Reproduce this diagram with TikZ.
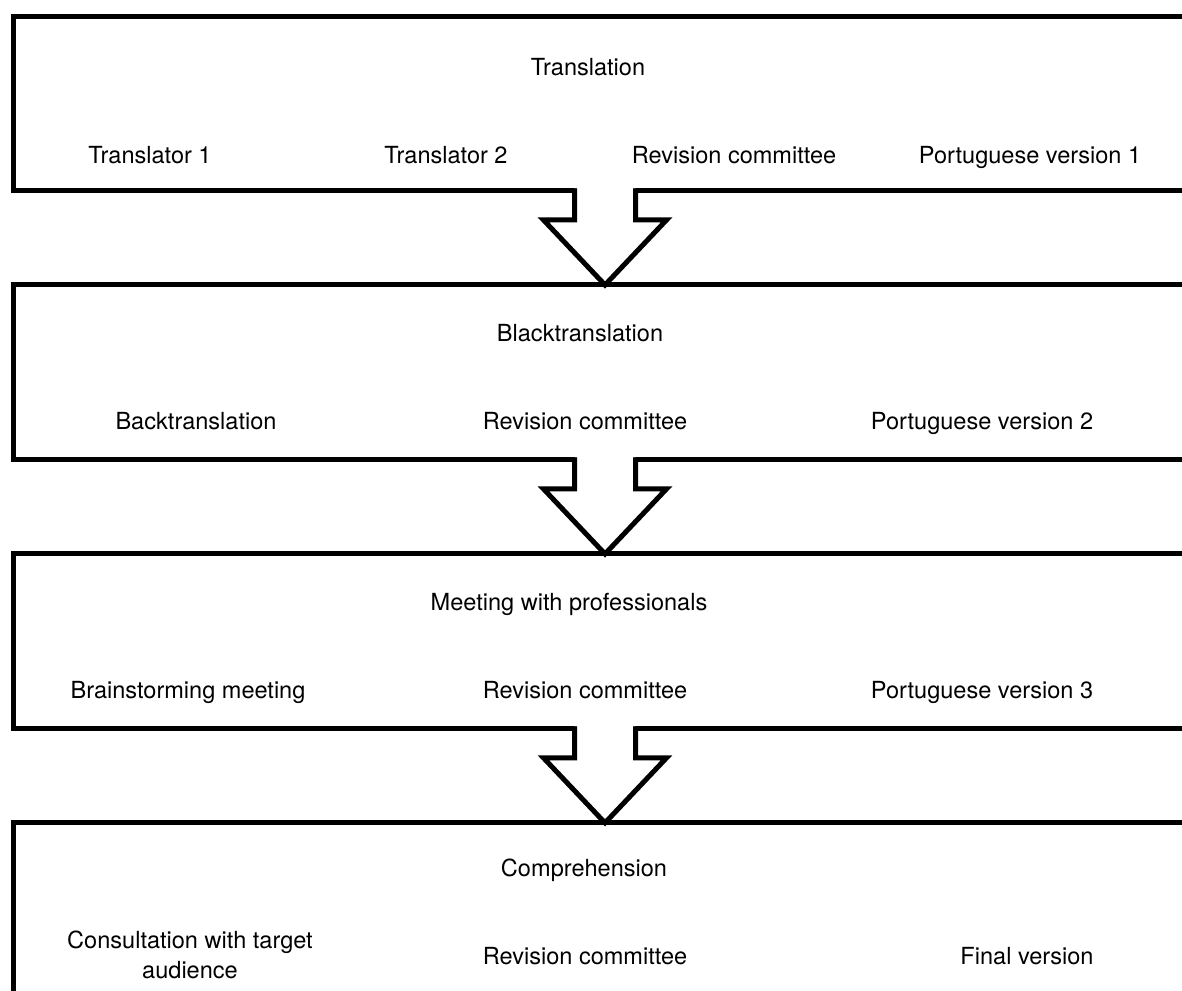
\documentclass[tikz,border=0pt]{standalone}
\usepackage{fontspec}
\setmainfont{TeX Gyre Heros}
\usetikzlibrary{positioning, calc}
\tikzset{
  stage/.style={
    rectangle, draw=black, line width=0.1cm,
    outer sep=0pt, inner sep=0pt,
    minimum width=23.68cm, minimum height=3.5cm,
  },
  blockarrow/.style={draw=black, fill=white, line width=0.1cm, line join=miter},
  phase/.style={font=\fontsize{13.4}{17}\selectfont, text height=10pt, text depth=3pt},
  task/.style={font=\fontsize{13.4}{17}\selectfont, align=center, text height=10pt, text depth=3pt},
}

\begin{document}
\begin{tikzpicture}[x=0.02cm, y=-0.02cm, node distance=1.88cm]
  \useasboundingbox (0,0) rectangle (1182,990);
  \clip (0,0) rectangle (1182,990);

  % Stage boxes (right and bottom edges run off the page)
  \node[stage] (translation) at (605,103.5) {};
  \node[stage, below=of translation] (backtrans) {};
  \node[stage, below=of backtrans]   (meeting)   {};
  \node[stage, below=of meeting]     (comprehension) {};

  % Block arrows between the stages
  \foreach \from/\to in {translation/backtrans, backtrans/meeting, meeting/comprehension} {
    \fill[white] ($(\from.south)+(-28,-3.5)$) rectangle ($(\from.south)+(28,4)$);
    \draw[blockarrow] ($(\from.south)+(-30.5,-2.5)$) -- ++(0,31.5) -- ++(-31,0)
      -- (\to.north) -- ($(\from.south)+(61.5,29)$) -- ++(-31,0) -- ++(0,-31.5);
  }

  % Stage 1
  \node[phase] (translationtitle) at (588,69)  {Translation};
  \node[task]  (translator1)      at (150,157) {Translator 1};
  \node[task]  (translator2)      at (446,157) {Translator 2};
  \node[task]  (revision1)        at (734,157) {Revision committee};
  \node[task]  (version1)         at (1030,157) {Portuguese version 1};

  % Stage 2
  \node[phase] (backtranstitle) at (580,335) {Blacktranslation};
  \node[task]  (backtranslation) at (196,423) {Backtranslation};
  \node[task]  (revision2)       at (585,423) {Revision committee};
  \node[task]  (version2)        at (982,423) {Portuguese version 2};

  % Stage 3
  \node[phase] (meetingtitle)  at (569,604) {Meeting with professionals};
  \node[task]  (brainstorming) at (188,692) {Brainstorming meeting};
  \node[task]  (revision3)     at (585,692) {Revision committee};
  \node[task]  (version3)      at (982,692) {Portuguese version 3};

  % Stage 4
  \node[phase] (comprehensiontitle) at (584,870) {Comprehension};
  \node[task]  (consultation) at (190,972) {Consultation with target\\audience};
  \node[task]  (revision4)    at (585,958) {Revision committee};
  \node[task]  (finalversion) at (1027,958) {Final version};

\end{tikzpicture}
\end{document}
